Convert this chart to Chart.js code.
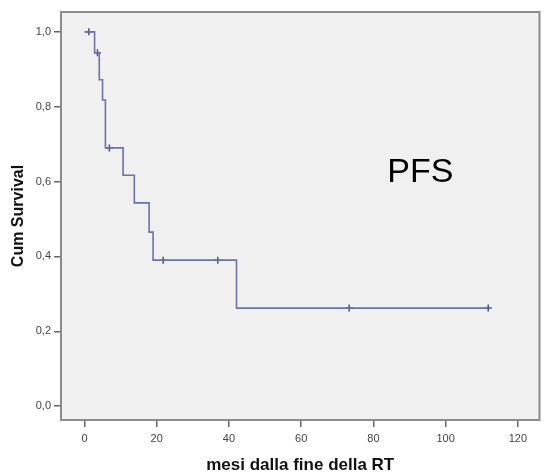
<!DOCTYPE html>
<html>
<head>
<meta charset="utf-8">
<script src="https://cdn.jsdelivr.net/npm/chart.js@4.4.1/dist/chart.umd.min.js"></script>
<style>
    html, body { margin: 0; padding: 0; background: #ffffff; }
    #wrap { width: 545px; height: 476px; }
</style>
</head>
<body>
<div id="wrap"><canvas id="chartCanvas" width="545" height="476"></canvas></div>
<script>
// Kaplan-Meier steps (months, cumulative survival)
const survTimes = [0, 2.8, 4.1, 5.0, 5.8, 10.7, 13.8, 17.9, 19.0, 42.1, 111.8];
const survValues = [1.0, 0.944, 0.872, 0.818, 0.69, 0.617, 0.543, 0.465, 0.39, 0.262, 0.262];

// censored observations
const censorTimes = [1.2, 3.6, 6.9, 21.8, 36.9, 73.3, 111.8];
const censorValues = [1.0, 0.944, 0.69, 0.39, 0.39, 0.262, 0.262];

const xTicks = [0, 20, 40, 60, 80, 100, 120];
const xTickLabels = ["0", "20", "40", "60", "80", "100", "120"];
const yTicks = [0, 0.2, 0.4, 0.6, 0.8, 1.0];
const yTickLabels = ["0,0", "0,2", "0,4", "0,6", "0,8", "1,0"];

const lineColor = "#6872ac";
const markColor = "#4a4f7e";
const frameColor = "#8c8c8c";

// plot background + frame + "PFS" label
const framePlugin = {
    id: "frame",
    beforeDatasetsDraw(chart) {
        const { ctx, chartArea: a } = chart;
        ctx.save();
        ctx.fillStyle = "#f0f0f0";
        ctx.fillRect(a.left, a.top, a.right - a.left, a.bottom - a.top);
        ctx.restore();
    },
    afterDraw(chart) {
        const { ctx, chartArea: a, scales } = chart;
        ctx.save();
        ctx.strokeStyle = frameColor;
        ctx.lineWidth = 2;
        ctx.strokeRect(a.left, a.top, a.right - a.left, a.bottom - a.top);
        ctx.fillStyle = "#000000";
        ctx.font = "34px 'Liberation Sans', Arial, sans-serif";
        ctx.textAlign = "center";
        ctx.textBaseline = "middle";
        ctx.fillText("PFS", scales.x.getPixelForValue(93), scales.y.getPixelForValue(0.625));
        ctx.restore();
    }
};

const ctx = document.getElementById("chartCanvas").getContext("2d");

new Chart(ctx, {
    type: "scatter",
    data: {
        datasets: [
            {
                type: "line",
                label: "Survival",
                data: survTimes.map((t, i) => ({ x: t, y: survValues[i] })),
                stepped: true,
                borderColor: lineColor,
                borderWidth: 1.6,
                pointRadius: 0,
                fill: false,
            },
            {
                label: "Censored",
                data: censorTimes.map((t, i) => ({ x: t, y: censorValues[i] })),
                pointStyle: "cross",
                pointRadius: 3.5,
                borderColor: markColor,
                borderWidth: 1.5,
                backgroundColor: markColor,
            },
        ],
    },
    options: {
        responsive: false,
        animation: false,
        layout: { padding: { top: 12, right: 3, left: 0, bottom: 0 } },
        plugins: {
            legend: { display: false },
            tooltip: { enabled: false },
        },
        scales: {
            x: {
                type: "linear",
                min: -6.5,
                max: 126,
                afterBuildTicks: scale => { scale.ticks = xTicks.map(v => ({ value: v })); },
                afterFit: scale => { scale.height = 56; },
                border: { display: false },
                grid: { drawOnChartArea: false, drawTicks: true, tickLength: 7, color: "#666", lineWidth: 1.5 },
                ticks: {
                    padding: 5,
                    color: "#444",
                    font: { family: "'Liberation Sans', Arial, sans-serif", size: 11 },
                    callback: (v, i) => xTickLabels[i],
                },
                title: {
                    display: true,
                    text: "mesi dalla fine della RT",
                    color: "#111",
                    padding: { top: 0, bottom: 0 },
                    font: { family: "'Liberation Sans', Arial, sans-serif", size: 17, weight: "bold" },
                },
            },
            y: {
                min: -0.037,
                max: 1.053,
                afterBuildTicks: scale => { scale.ticks = yTicks.map(v => ({ value: v })); },
                afterFit: scale => { scale.width = 61; },
                border: { display: false },
                grid: { drawOnChartArea: false, drawTicks: true, tickLength: 7, color: "#666", lineWidth: 1.5 },
                ticks: {
                    padding: 3,
                    color: "#444",
                    font: { family: "'Liberation Sans', Arial, sans-serif", size: 11 },
                    callback: (v, i) => yTickLabels[i],
                },
                title: {
                    display: true,
                    text: "Cum Survival",
                    color: "#111",
                    padding: { top: 9, bottom: 0 },
                    font: { family: "'Liberation Sans', Arial, sans-serif", size: 16, weight: "bold" },
                },
            },
        },
    },
    plugins: [framePlugin],
});
</script>
</body>
</html>
